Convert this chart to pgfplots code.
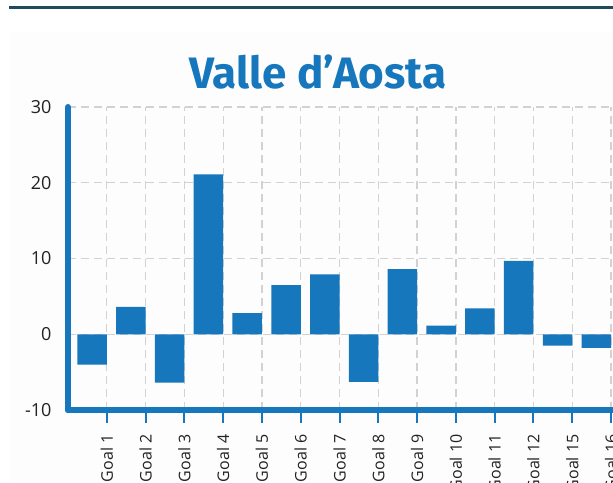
\documentclass[border=0pt]{standalone}
\usepackage{pgfplots}
\pgfplotsset{compat=1.18}
\usepackage{fontspec}
\setmainfont{Open Sans}
\newfontfamily\titlefont{Fira Sans}
\definecolor{barblue}{RGB}{22,119,189}
\definecolor{topline}{RGB}{31,75,93}
\definecolor{gridgray}{RGB}{210,210,210}
\definecolor{txt}{RGB}{34,34,34}
\begin{document}
\begin{tikzpicture}[x=1pt,y=1pt]
\path[use as bounding box, clip] (0,0) rectangle (613,482);
\fill[white] (0,0) rectangle (613,482);
\fill[black!0.7] (10,0) rectangle (613,450);
\draw[topline, line width=2.7pt] (9,474.5) -- (613,474.5);
\node[anchor=base, text=barblue, font=\titlefont\bfseries\fontsize{44}{50}\selectfont] at (318,393) {Valle d’Aosta};
\begin{axis}[
  at={(68pt,72pt)}, anchor=south west,
  scale only axis, width=545pt, height=303pt,
  xmin=0, xmax=14.05, ymin=-10, ymax=30,
  axis x line*=bottom, axis y line*=left,
  axis line style={barblue, line width=6pt, line cap=round, -},
  xtick={1,...,14},
  xticklabels={Goal 1,Goal 2,Goal 3,Goal 4,Goal 5,Goal 6,Goal 7,Goal 8,Goal 9,Goal 10,Goal 11,Goal 12,Goal 15,Goal 16},
  x tick label style={rotate=90, anchor=east, font=\fontsize{16}{19}\selectfont, text=txt},
  xticklabel shift=8pt,
  xtick style={draw=barblue, line width=2pt},
  tick align=outside,
  major tick length=13pt,
  ytick={-10,0,10,20,30},
  ytick style={draw=none},
  y tick label style={font=\fontsize{18}{21}\selectfont, text=txt},
  /pgf/number format/assume math mode=true,
  grid=major,
  major grid style={gridgray, line width=1.3pt, dash pattern=on 8pt off 5pt},
  ybar, bar width=29.5pt,
  clip=false,
]
\addplot[fill=barblue, draw=none] coordinates {
(0.62,-4.0) (1.62,3.6) (2.62,-6.4) (3.62,21.1) (4.62,2.8) (5.62,6.5) (6.62,7.9)
(7.62,-6.3) (8.62,8.6) (9.62,1.15) (10.62,3.4) (11.62,9.7) (12.62,-1.5) (13.62,-1.8)
};
\end{axis}
\end{tikzpicture}
\end{document}
